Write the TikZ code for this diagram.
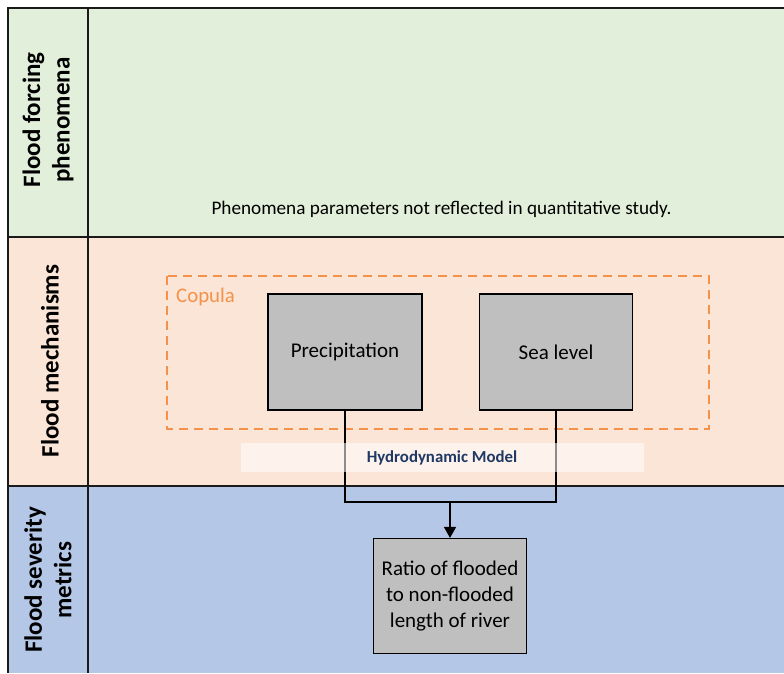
\documentclass[tikz,border=0pt]{standalone}
\usepackage{fontspec}
\setmainfont{Carlito}
\usetikzlibrary{arrows.meta}
\definecolor{forceband}{HTML}{E2EFDA}
\definecolor{mechband}{HTML}{FBE5D6}
\definecolor{sevband}{HTML}{B4C7E7}
\definecolor{boxgrey}{HTML}{BFBFBF}
\definecolor{copulaor}{HTML}{F4914A}
\definecolor{modelblue}{HTML}{1F3864}
\definecolor{gridline}{HTML}{1A1A1A}
\tikzset{
  rowlabel/.style={rotate=90, font=\bfseries\fontsize{25}{29.5}\selectfont, align=center, text=black},
  varbox/.style={draw=black, line width=1.2pt, fill=boxgrey, font=\fontsize{21}{26}\selectfont, align=center, inner sep=0pt},
  link/.style={draw=black, line width=1.6pt},
}
\begin{document}
\begin{tikzpicture}[x=1pt,y=-1pt]
\useasboundingbox (0,0) rectangle (784,673);
% swim-lane backgrounds
\fill[forceband] (8,8) rectangle (784,237);
\fill[mechband] (8,237) rectangle (784,486);
\fill[sevband] (8,486) rectangle (784,673);
% lane grid
\draw[gridline, line width=1.4pt] (784,8) -- (8,8) -- (8,673);
\draw[gridline, line width=1.4pt] (88,8) -- (88,673);
\draw[gridline, line width=1.4pt] (8,237) -- (784,237);
\draw[gridline, line width=1.4pt] (8,486) -- (784,486);
% lane titles
\node[rowlabel] (lblforce) at (48,120) {Flood forcing\\phenomena};
\node[rowlabel] (lblmech) at (50,361) {Flood mechanisms};
\node[rowlabel] (lblsev) at (48,580) {Flood severity\\metrics};
% forcing lane note
\node[font=\fontsize{19.2}{23}\selectfont] (note) at (441.5,209) {Phenomena parameters not reflected in quantitative study.};
% copula group
\draw[copulaor, line width=1.4pt, dash pattern=on 9pt off 6pt] (167,276) rectangle (709,429);
\node[text=copulaor, font=\fontsize{20.8}{24}\selectfont, anchor=west, inner sep=0pt] (copula) at (176,297) {Copula};
% driver variables
\node[varbox, minimum width=154pt, minimum height=116pt] (precip) at (345,352) {Precipitation};
\node[varbox, minimum width=153pt, minimum height=116pt] (sea) at (556,352) {Sea level};
% severity metric
\node[varbox, minimum width=153pt, minimum height=115pt] (ratio) at (450,596) {Ratio of flooded\\to non-flooded\\length of river};
% connectors
\coordinate (join) at (450,502);
\draw[link] (precip.south) |- (join);
\draw[link] (sea.south) |- (join);
\draw[link, -{Triangle[length=11pt,width=12pt]}] (join) -- (ratio.north);
% model band over the connectors
\fill[white, opacity=0.55] (241,443) rectangle (644,472);
\node[font=\bfseries\fontsize{16.8}{19}\selectfont, text=modelblue] (model) at (442,458) {Hydrodynamic Model};
\end{tikzpicture}
\end{document}
